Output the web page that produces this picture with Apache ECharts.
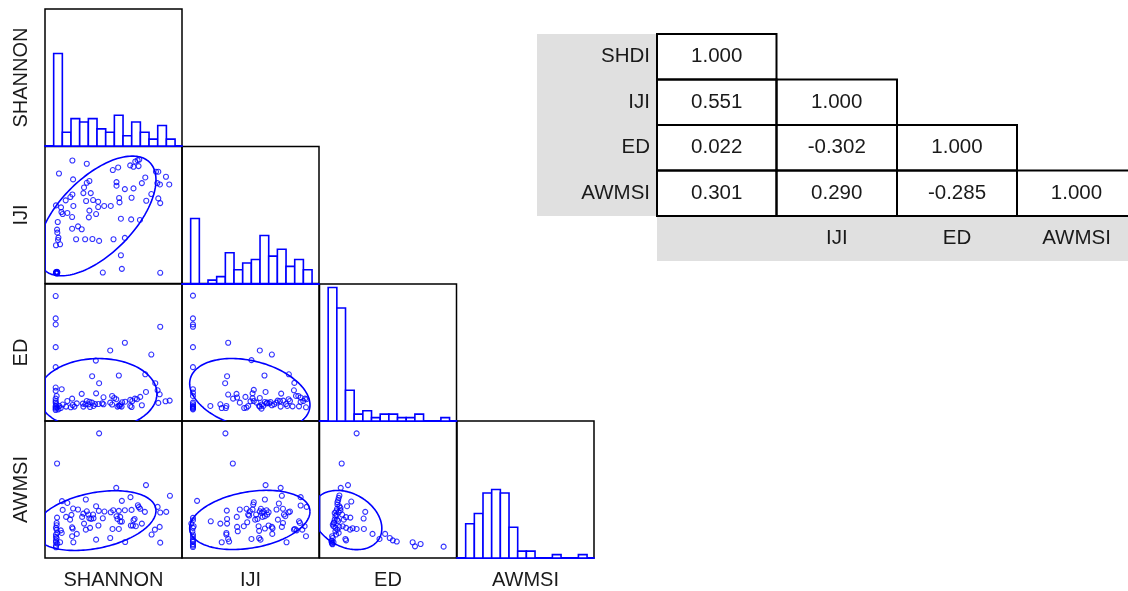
<!DOCTYPE html>
<html>
<head>
<meta charset="utf-8">
<script src="https://cdn.jsdelivr.net/npm/echarts@6/dist/echarts.min.js"></script>
<style>html,body{margin:0;padding:0;background:#fff;}#c{width:1128px;height:591px;}</style>
</head>
<body>
<div id="c"></div>
<script>
// ---------- DATA ----------
const variables = ['SHANNON', 'IJI', 'ED', 'AWMSI'];

// histogram counts per bin (bins 1..14)
const histShannon = [27, 4, 8, 7, 8, 5, 4, 9, 3, 7, 4, 2, 6, 2];
const histIJI     = [19, 0, 1, 2, 9, 4, 6, 7, 14, 8, 10, 5, 7, 4];
const histED      = [39, 33, 9, 2, 3, 1, 2, 2, 1, 1, 2, 0, 0, 1];
const histAWMSI   = [10, 13, 19, 20, 19, 9, 2, 2, 0, 0, 1, 0, 0, 1];

// scatter values (scaled 0-100 within each variable's range)
const scatterShannonIJI = [
[20.0,89.8],[30.5,87.4],[10.2,80.3],[49.5,82.8],[53.4,84.7],[62.2,86.2],[64.6,85.2],[65.9,89.1],[67.6,90.0],[68.8,90.5],
[68.3,85.7],[81.0,81.6],[82.7,81.6],[88.3,77.9],[90.7,72.3],[83.9,72.3],[82.0,73.3],[73.2,77.4],[70.7,73.3],[64.6,69.4],
[58.3,68.9],[52.2,74.0],[52.2,71.4],[77.6,65.3],[63.2,62.6],[73.9,60.4],[82.7,62.1],[84.1,58.7],[20.5,76.0],[30.5,73.5],
[32.4,74.8],[28.5,70.1],[28.0,66.0],[20.0,65.0],[18.5,63.1],[33.4,66.0],[15.1,60.7],[11.7,55.6],[8.0,57.0],[12.0,52.2],
[12.9,50.7],[16.3,51.5],[20.7,56.6],[30.0,60.2],[35.1,60.9],[38.8,59.7],[38.8,55.8],[43.2,56.6],[48.0,56.6],[54.1,62.4],
[54.4,59.2],[32.4,53.2],[37.3,50.7],[32.0,48.3],[19.8,48.5],[9.3,44.9],[55.4,47.3],[62.9,46.8],[69.3,46.4],[24.1,41.7],
[19.8,40.0],[26.8,39.6],[8.8,39.3],[9.0,37.1],[9.8,33.5],[9.5,31.8],[8.0,27.9],[11.0,28.6],[22.7,32.3],[29.3,32.3],
[34.6,32.5],[39.5,31.1],[50.0,32.3],[58.3,33.3],[55.4,20.6],[56.1,10.7],[42.2,8.0],[84.1,7.8],
[8.5,8.0],[8.0,7.6],[8.3,8.0],[8.6,8.3],[8.9,7.8],[8.4,7.5],[8.7,8.6],[8.1,8.4],[9.0,8.2],[8.2,7.9],[8.8,7.4]
];
const scatterShannonED = [
[7.8,91.2],[7.8,74.9],[7.8,70.5],[7.8,53.9],[7.8,39.3],[84.1,68.8],[58.3,57.1],[47.6,51.5],[77.6,48.5],[37.1,44.1],
[34.4,32.7],[53.9,33.2],[39.5,27.6],[73.2,34.1],[80.5,27.6],[12.2,23.2],[7.8,24.4],[7.8,22.0],[8.5,18.3],[7.8,16.3],
[26.8,19.8],[37.3,20.2],[42.7,17.3],[49.0,18.3],[50.5,16.8],[52.0,15.9],[69.5,17.6],[73.7,21.2],[82.2,22.4],[83.7,19.5],
[88.0,14.4],[91.0,14.9],[82.7,13.2],[70.7,11.5],[67.1,15.9],[65.6,16.3],[63.7,14.6],[62.2,15.4],[58.5,14.1],[56.3,13.7],
[54.9,12.2],[53.9,11.2],[55.9,10.5],[52.9,10.5],[47.6,13.4],[49.0,12.0],[42.7,12.2],[39.0,12.4],[36.6,12.4],[34.4,13.4],
[32.4,14.1],[30.5,14.6],[29.5,12.2],[28.0,10.5],[27.6,12.7],[23.2,12.9],[20.2,11.7],[19.8,16.3],[16.3,14.6],[15.4,10.5],
[12.9,12.0],[10.5,11.0],[11.5,9.5],[18.8,10.0],[21.5,10.5],[32.9,10.2],[31.7,12.2],[35.4,11.0],[41.7,12.9],[62.2,11.0],
[63.2,10.2],[54.6,10.9],[9.0,9.8],[7.8,9.0],[7.8,8.0],[7.8,11.0],[7.8,13.4],[7.8,14.6],[9.8,8.5],[7.8,10.0],[8.3,12.2]
];
const scatterIJIED = [
[8.0,91.5],[8.0,74.9],[8.0,70.5],[8.0,68.8],[8.0,53.9],[8.0,39.3],[33.7,57.1],[56.8,51.5],[65.6,48.5],[50.7,44.4],
[32.9,32.7],[60.2,33.2],[31.5,27.6],[78.0,34.1],[82.0,27.8],[81.7,22.4],[83.2,18.3],[86.6,17.1],[89.8,16.3],[88.5,14.6],
[90.5,10.0],[85.4,10.7],[80.7,10.7],[76.8,11.0],[75.9,12.4],[73.9,14.9],[72.4,20.0],[71.5,14.6],[69.8,14.9],[69.0,13.4],
[67.3,12.2],[65.6,11.5],[63.7,12.9],[62.2,13.4],[60.5,13.9],[58.3,12.0],[56.8,10.5],[58.0,9.0],[56.3,11.0],[54.4,13.4],
[52.4,14.6],[51.5,16.6],[52.4,22.7],[51.5,20.2],[61.0,21.2],[56.8,16.8],[50.0,14.4],[48.3,11.0],[47.1,9.8],[45.4,9.5],
[46.3,17.6],[42.2,13.4],[39.8,19.8],[40.2,17.1],[37.3,16.3],[33.7,19.3],[32.4,11.0],[32.0,9.5],[29.0,9.5],[28.0,12.2],
[20.7,11.0],[8.0,23.2],[8.0,20.7],[8.0,18.3],[8.0,13.4],[8.0,12.2],[8.0,11.0],[8.0,9.8],[8.0,8.5],[78.8,14.6],
[77.8,15.9],[84.9,18.3],[86.6,13.9],[91.0,15.9],[72.0,10.5],[61.7,12.9],[64.6,13.9],[59.3,11.0],[8.0,10.4],[8.0,9.2]
];
const scatterShannonAWMSI = [
[39.5,91.0],[8.8,69.0],[73.7,53.2],[52.0,51.2],[91.2,45.4],[29.8,42.7],[12.4,41.5],[16.3,40.2],[56.1,41.7],[62.4,44.4],
[67.8,38.5],[68.5,37.1],[69.5,35.9],[82.2,37.3],[84.1,33.2],[88.5,33.7],[72.9,33.7],[58.3,34.9],[63.2,35.1],[53.9,34.4],
[49.8,34.9],[48.0,33.4],[43.4,33.9],[39.3,34.4],[37.3,37.8],[35.1,31.7],[31.7,31.7],[30.5,34.1],[28.0,32.4],[24.1,35.4],
[20.5,36.1],[19.3,31.5],[15.4,30.0],[12.9,35.1],[8.8,29.5],[18.3,28.0],[27.1,30.0],[32.4,29.0],[33.7,28.5],[35.4,29.0],
[42.2,29.0],[39.0,23.7],[32.9,22.0],[28.5,25.1],[29.8,20.7],[19.8,22.4],[20.2,21.5],[23.2,17.6],[19.8,15.9],[20.7,11.5],
[8.5,25.6],[8.5,23.9],[8.0,22.0],[8.5,20.7],[9.0,18.3],[8.0,17.1],[8.0,15.4],[8.5,14.4],[8.0,12.9],[8.0,11.5],
[9.0,10.5],[8.0,9.0],[8.0,7.8],[11.0,11.5],[11.5,20.2],[12.2,18.3],[37.3,13.4],[47.6,14.6],[49.3,21.2],[53.9,21.2],
[54.9,26.6],[56.1,26.6],[52.9,28.5],[52.2,30.5],[54.9,30.0],[65.4,28.5],[66.3,23.2],[64.1,23.7],[62.7,23.7],[70.7,25.1],
[77.8,17.1],[80.2,20.7],[83.7,22.7],[84.1,11.2],[58.5,11.7],[64.6,27.6]
];
const scatterIJIAWMSI = [
[31.7,91.0],[37.1,69.0],[61.0,53.2],[72.0,51.2],[11.0,41.7],[86.6,44.4],[91.0,37.3],[86.6,38.3],[72.9,45.4],[60.5,42.7],
[70.7,39.8],[52.4,40.7],[52.0,39.0],[47.1,35.9],[49.5,34.1],[51.5,35.4],[57.6,35.9],[56.8,34.1],[59.3,34.1],[61.7,34.9],
[63.2,33.4],[62.2,31.7],[60.5,30.5],[58.8,30.0],[58.3,32.9],[54.1,31.7],[55.1,28.5],[48.3,31.7],[49.0,31.0],[42.2,35.4],
[40.0,30.0],[32.7,34.6],[32.9,28.5],[32.9,25.1],[28.0,25.1],[21.0,26.8],[40.2,22.7],[40.7,19.5],[45.1,23.2],[47.6,26.1],
[53.4,28.0],[55.9,23.2],[56.3,19.8],[60.5,21.5],[63.2,23.7],[65.6,22.7],[66.1,21.7],[65.9,17.6],[69.0,35.4],[73.7,35.9],
[74.4,31.7],[75.4,30.5],[77.8,33.4],[78.8,33.9],[70.0,28.0],[73.7,25.6],[72.9,22.7],[82.4,21.2],[83.7,20.2],[81.7,20.7],
[85.4,26.8],[86.1,25.6],[89.5,23.2],[87.8,20.7],[90.5,15.9],[76.3,11.5],[50.7,13.9],[56.3,14.6],[57.3,13.4],[32.4,18.3],
[32.4,17.1],[33.7,13.9],[34.4,12.0],[29.0,11.5],[8.0,29.3],[8.0,27.6],[6.8,25.1],[8.0,22.0],[7.6,19.5],[8.0,17.1],
[8.0,15.4],[8.0,13.4],[8.0,11.7],[8.0,10.0],[8.0,8.0],[8.5,23.2],[8.0,9.0],[8.0,12.5]
];
const scatterEDAWMSI = [
[27.1,91.0],[16.2,69.0],[20.8,53.2],[15.5,51.2],[14.5,45.6],[14.0,43.9],[13.6,42.2],[13.1,40.7],[23.2,41.2],[20.1,37.8],
[14.5,37.8],[12.8,35.9],[12.1,34.1],[11.1,32.9],[14.0,33.4],[15.3,34.9],[16.5,31.7],[19.4,29.8],[22.5,29.5],[33.4,33.7],
[32.2,28.8],[11.6,30.5],[11.1,28.0],[10.7,26.1],[9.7,24.4],[10.2,23.2],[11.6,22.0],[13.1,20.7],[14.5,22.7],[16.9,23.2],
[19.4,22.0],[22.3,20.7],[24.2,21.7],[27.1,21.2],[32.4,21.2],[38.7,17.6],[43.8,13.9],[47.9,17.6],[51.3,14.6],[53.5,12.9],
[56.4,12.0],[68.0,11.5],[69.7,8.5],[73.8,10.2],[90.6,8.3],[18.9,13.9],[19.4,12.9],[9.2,15.9],[9.7,14.6],[8.7,12.2],
[9.2,10.5],[10.2,11.5],[12.1,17.1],[14.0,18.3],[11.6,19.5],[10.4,25.6],[12.8,28.0],[13.1,39.0],[15.3,36.6],[17.7,28.0],
[9.0,11.2],[9.5,10.0],[8.9,12.8],[12.4,31.5],[13.6,27.0]
];

// data ellipses: [centerX, centerY, sdX, sdY, correlation]
const ellipseShannonIJI   = [37.8, 49.3, 43.2, 43.7, 0.60];
const ellipseShannonED    = [38.3, 19.5, 43.4, 26.1, 0.02];
const ellipseIJIED        = [49.5, 19.5, 43.9, 26.1, -0.30];
const ellipseShannonAWMSI = [36.6, 27.3, 44.4, 21.8, 0.33];
const ellipseIJIAWMSI     = [49.5, 27.8, 43.9, 21.6, 0.28];
const ellipseEDAWMSI      = [20.1, 27.7, 25.4, 21.6, -0.28];

// correlation table
const corrRowLabels = ['SHDI', 'IJI', 'ED', 'AWMSI'];
const corrColLabels = ['', 'IJI', 'ED', 'AWMSI'];
const corrValues = [
  [1.000],
  [0.551, 1.000],
  [0.022, -0.302, 1.000],
  [0.301, 0.290, -0.285, 1.000]
];

// ---------- LAYOUT ----------
const BLUE = '#0000ff';
const FONT = '"Liberation Sans", Arial, sans-serif';
const cellLeft = [45, 182, 319.5, 457];
const cellTop = [9, 146.5, 284, 421];
const cellSize = 137;

const hists = [histShannon, histIJI, histED, histAWMSI];
const scatters = {
  '1-0': [scatterShannonIJI, ellipseShannonIJI],
  '2-0': [scatterShannonED, ellipseShannonED],
  '2-1': [scatterIJIED, ellipseIJIED],
  '3-0': [scatterShannonAWMSI, ellipseShannonAWMSI],
  '3-1': [scatterIJIAWMSI, ellipseIJIAWMSI],
  '3-2': [scatterEDAWMSI, ellipseEDAWMSI]
};

const grids = [], xAxes = [], yAxes = [], series = [];
let gi = 0;
for (let r = 0; r < 4; r++) {
  for (let c = 0; c <= r; c++) {
    grids.push({ left: cellLeft[c], top: cellTop[r], width: cellSize, height: cellSize,
      show: true, borderColor: '#000', borderWidth: 1.5, backgroundColor: 'transparent' });
    if (r === c) {
      xAxes.push({ gridIndex: gi, type: 'value', min: 0, max: 15.8,
        axisLine: { show: true, lineStyle: { color: BLUE, width: 2 } },
        axisTick: { show: false }, axisLabel: { show: false }, splitLine: { show: false } });
      yAxes.push({ gridIndex: gi, type: 'value', min: 0, max: 40, show: false, splitLine: { show: false } });
      series.push({
        type: 'custom', xAxisIndex: gi, yAxisIndex: gi,
        data: hists[r].map((v, k) => [k + 1, v]),
        renderItem: function (params, api) {
          const i = api.value(0), h = api.value(1);
          if (!h) return null;
          const p0 = api.coord([i, 0]), p1 = api.coord([i + 1, h]);
          return { type: 'rect', shape: { x: p0[0], y: p1[1], width: p1[0] - p0[0], height: p0[1] - p1[1] },
            style: { fill: '#fff', stroke: BLUE, lineWidth: 1.6 } };
        }
      });
    } else {
      const pair = scatters[r + '-' + c];
      xAxes.push({ gridIndex: gi, type: 'value', min: 0, max: 100, show: false, splitLine: { show: false } });
      yAxes.push({ gridIndex: gi, type: 'value', min: 0, max: 100, show: false, splitLine: { show: false } });
      series.push({
        type: 'scatter', xAxisIndex: gi, yAxisIndex: gi, data: pair[0],
        symbol: 'circle', symbolSize: 5,
        itemStyle: { color: 'rgba(255,255,255,0)', borderColor: BLUE, borderWidth: 1.1 },
        silent: true, animation: false
      });
      series.push({
        type: 'custom', xAxisIndex: gi, yAxisIndex: gi, clip: true,
        data: [pair[1]],
        renderItem: function (params, api) {
          const cx = api.value(0), cy = api.value(1), sx = api.value(2), sy = api.value(3), rho = api.value(4);
          const pts = [];
          const N = 160;
          const q = Math.sqrt(1 - rho * rho);
          for (let k = 0; k <= N; k++) {
            const t = 2 * Math.PI * k / N;
            let x = cx + sx * Math.cos(t);
            const y = cy + sy * (rho * Math.cos(t) + q * Math.sin(t));
            if (x < 0) x = 0;
            pts.push(api.coord([x, y]));
          }
          return { type: 'polyline', shape: { points: pts }, style: { stroke: BLUE, lineWidth: 1.6, fill: null } };
        }
      });
    }
    gi++;
  }
}

// ---------- TEXT & TABLE GRAPHICS ----------
const graphics = [];
const TXT = '#1a1a1a';
for (let i = 0; i < 4; i++) {
  graphics.push({ type: 'text', x: 21, y: cellTop[i] + cellSize / 2, rotation: Math.PI / 2,
    style: { text: variables[i], font: '20px ' + FONT, fill: TXT, align: 'center', verticalAlign: 'middle' } });
  graphics.push({ type: 'text', x: cellLeft[i] + cellSize / 2, y: 580,
    style: { text: variables[i], font: '20px ' + FONT, fill: TXT, align: 'center', verticalAlign: 'middle' } });
}

const tabColX = [657, 776.5, 897, 1017, 1140];
const tabRowY = [34, 79.5, 125, 170.5, 216, 261];
graphics.push({ type: 'rect', shape: { x: 537, y: tabRowY[0], width: tabColX[0] - 537, height: tabRowY[4] - tabRowY[0] },
  style: { fill: '#e0e0e0' } });
graphics.push({ type: 'rect', shape: { x: tabColX[0], y: tabRowY[4], width: tabColX[4] - tabColX[0], height: tabRowY[5] - tabRowY[4] },
  style: { fill: '#e0e0e0' } });
for (let i = 0; i < 4; i++) {
  const yc = (tabRowY[i] + tabRowY[i + 1]) / 2;
  graphics.push({ type: 'text', x: 650, y: yc,
    style: { text: corrRowLabels[i], font: '20.5px ' + FONT, fill: TXT, align: 'right', verticalAlign: 'middle' } });
  for (let j = 0; j <= i; j++) {
    graphics.push({ type: 'rect', shape: { x: tabColX[j], y: tabRowY[i], width: tabColX[j + 1] - tabColX[j], height: tabRowY[i + 1] - tabRowY[i] },
      style: { fill: 'none', stroke: '#000', lineWidth: 2 } });
    graphics.push({ type: 'text', x: (tabColX[j] + Math.min(tabColX[j + 1], 1136)) / 2, y: yc,
      style: { text: corrValues[i][j].toFixed(3), font: '20.5px ' + FONT, fill: TXT, align: 'center', verticalAlign: 'middle' } });
  }
}
for (let j = 0; j < 4; j++) {
  graphics.push({ type: 'text', x: (tabColX[j] + Math.min(tabColX[j + 1], 1136)) / 2, y: (tabRowY[4] + tabRowY[5]) / 2,
    style: { text: corrColLabels[j], font: '20.5px ' + FONT, fill: TXT, align: 'center', verticalAlign: 'middle' } });
}

const chart = echarts.init(document.getElementById('c'), null, { renderer: 'canvas' });
chart.setOption({
  animation: false,
  backgroundColor: '#fff',
  grid: grids,
  xAxis: xAxes,
  yAxis: yAxes,
  series: series,
  graphic: { elements: graphics }
});
</script>
</body>
</html>
